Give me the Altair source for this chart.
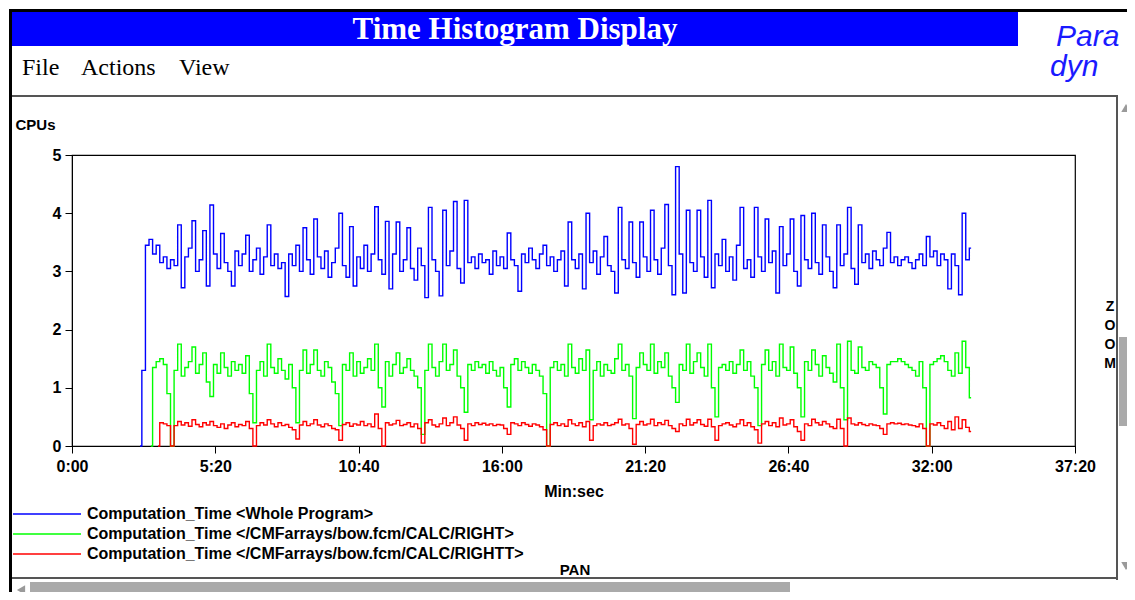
import altair as alt
import pandas as pd

# ---------------- data ----------------
START_SEC = 152      # first histogram bucket (seconds)
BUCKET_SEC = 8       # bucket width (seconds)

SERIES = [
    "Computation_Time <Whole Program>",
    "Computation_Time </CMFarrays/bow.fcm/CALC/RIGHT>",
    "Computation_Time </CMFarrays/bow.fcm/CALC/RIGHTT>",
]
COLORS = ["#0000ff", "#00ff00", "#ff0000"]

BLUE = [
    0.0,
    1.3, 3.45, 3.55, 3.3, 3.45, 3.15, 3.25, 3.05, 3.2, 3.1,
    3.8, 2.72, 3.25, 3.4, 3.87, 3.0, 3.2, 3.7, 2.75, 4.14,
    3.3, 3.05, 3.65, 3.15, 3.0, 2.75, 3.35, 3.1, 3.3, 3.62,
    3.0, 3.2, 3.4, 2.95, 3.25, 3.8, 3.1, 3.3, 3.05, 3.15,
    2.57, 3.3, 3.1, 3.45, 3.0, 3.75, 3.2, 2.95, 3.9, 3.25,
    3.05, 3.35, 2.9, 3.15, 3.4, 4.0, 3.1, 2.9, 3.77, 2.75,
    3.25, 3.05, 3.45, 3.0, 3.3, 4.11, 3.2, 2.95, 3.86, 2.7,
    3.3, 3.85, 3.0, 3.2, 3.75, 3.05, 2.85, 3.4, 3.1, 2.55,
    4.1, 3.2, 3.0, 2.58, 4.05, 3.1, 3.35, 4.2, 3.05, 2.8,
    4.22, 3.15, 3.25, 3.05, 3.3, 3.15, 3.2, 2.95, 3.35, 3.1,
    3.25, 3.05, 3.66, 3.2, 3.1, 2.66, 3.3, 3.15, 3.4, 3.2,
    3.05, 3.3, 3.45, 3.1, 3.25, 3.0, 3.2, 3.35, 2.75, 3.85,
    3.2, 3.05, 3.3, 2.7, 4.0, 3.15, 3.35, 2.95, 3.25, 3.6,
    3.1, 3.0, 2.63, 4.1, 3.2, 3.05, 3.85, 3.15, 2.9, 3.85,
    3.25, 3.0, 4.05, 3.2, 2.95, 3.4, 4.15, 3.1, 2.6, 4.8,
    3.3, 2.63, 4.05, 3.15, 3.0, 4.05, 3.25, 2.9, 4.22, 2.72,
    3.3, 3.1, 3.55, 3.0, 3.25, 2.85, 3.45, 4.1, 3.05, 3.2,
    2.9, 4.1, 3.25, 3.0, 3.9, 3.15, 3.35, 2.63, 3.77, 3.1,
    3.3, 3.9, 3.0, 2.75, 3.96, 3.2, 3.05, 4.0, 3.15, 2.95,
    3.8, 3.25, 3.0, 2.72, 3.8, 3.1, 3.3, 4.1, 3.05, 2.78,
    3.8, 3.15, 3.3, 3.05, 3.35, 3.2, 3.1, 3.4, 3.67, 3.15,
    3.25, 3.1, 3.2, 3.25, 3.15, 3.05, 3.2, 3.3, 3.1, 3.6,
    3.25, 3.35, 3.1, 3.3, 3.2, 2.7, 3.3, 3.1, 2.6, 4.0,
    3.2, 3.4,
]

GREEN = [
    None,
    None, None, 0.0, 1.35, 1.45, 1.5, 1.4, 0.9, 0.0, 1.3,
    1.75, 1.2, 1.35, 1.45, 1.7, 1.25, 1.4, 1.6, 1.1, 0.85,
    1.4, 1.25, 1.6, 1.35, 1.2, 1.45, 1.3, 1.4, 1.25, 1.55,
    0.9, 0.4, 1.3, 1.45, 1.2, 1.75, 1.35, 1.25, 1.5, 1.3,
    1.15, 1.4, 1.0, 0.4, 1.3, 1.65, 1.25, 1.4, 1.65, 1.3,
    1.2, 1.45, 1.35, 1.1, 0.9, 0.35, 1.4, 1.3, 1.6, 1.2,
    1.45, 1.25, 1.35, 1.5, 1.3, 1.75, 1.0, 0.67, 1.45, 1.2,
    1.4, 1.6, 1.25, 1.35, 1.5, 1.3, 1.2, 1.0, 0.2, 1.3,
    1.75, 1.35, 1.2, 1.45, 1.75, 1.3, 1.4, 1.65, 1.2, 1.0,
    0.58, 1.4, 1.3, 1.45, 1.35, 1.4, 1.25, 1.45, 1.3, 1.2,
    1.35, 1.0, 0.67, 1.4, 1.5, 1.3, 1.45, 1.35, 1.25, 1.4,
    1.3, 1.2, 0.9, 0.0, 1.35, 1.45, 1.3, 1.4, 1.2, 1.75,
    1.35, 1.25, 1.5, 1.3, 1.65, 0.45, 1.3, 1.45, 1.2, 1.4,
    1.3, 1.25, 1.5, 1.75, 1.3, 1.4, 1.2, 0.47, 1.35, 1.6,
    1.4, 1.3, 1.75, 1.25, 1.45, 1.35, 1.6, 1.2, 1.0, 0.75,
    1.4, 1.3, 1.75, 1.25, 1.45, 1.6, 1.35, 1.2, 1.75, 1.0,
    0.5, 1.35, 1.4, 1.3, 1.45, 1.25, 1.4, 1.65, 1.3, 1.45,
    1.2, 1.0, 0.35, 1.4, 1.65, 1.3, 1.45, 1.2, 1.75, 1.35,
    1.3, 1.7, 1.25, 1.0, 0.5, 1.45, 1.3, 1.65, 1.4, 1.2,
    1.55, 1.35, 1.25, 1.1, 1.75, 1.0, 0.45, 1.8, 1.3, 1.25,
    1.7, 1.35, 1.3, 1.45, 1.4, 1.35, 1.0, 0.55, 1.4, 1.45,
    1.45, 1.5, 1.45, 1.4, 1.35, 1.3, 1.2, 1.45, 1.0, 0.0,
    1.4, 1.45, 1.5, 1.55, 1.45, 1.3, 1.2, 1.6, 1.25, 1.8,
    1.35, 0.83,
]

RED = [
    None,
    None, None, None, None, 0.0, 0.4, 0.38, 0.35, 0.0, 0.35,
    0.42, 0.36, 0.4, 0.34, 0.45, 0.37, 0.33, 0.4, 0.36, 0.42,
    0.35, 0.32, 0.38, 0.3, 0.36, 0.4, 0.33, 0.37, 0.35, 0.42,
    0.3, 0.0, 0.35, 0.4, 0.36, 0.45, 0.38, 0.33, 0.4, 0.35,
    0.37, 0.32, 0.28, 0.12, 0.36, 0.42, 0.35, 0.38, 0.45, 0.36,
    0.33, 0.38, 0.35, 0.3, 0.28, 0.1, 0.37, 0.4, 0.34, 0.38,
    0.36, 0.42, 0.35, 0.38, 0.33, 0.55, 0.3, 0.0, 0.4, 0.36,
    0.38, 0.44, 0.35, 0.37, 0.4, 0.33, 0.38, 0.3, 0.05, 0.4,
    0.45, 0.36, 0.33, 0.38, 0.48, 0.35, 0.4, 0.5, 0.36, 0.3,
    0.1, 0.38, 0.35, 0.4, 0.37, 0.39, 0.36, 0.38, 0.35, 0.37,
    0.36, 0.3, 0.2, 0.4, 0.38, 0.35, 0.4, 0.37, 0.34, 0.38,
    0.36, 0.33, 0.28, 0.0, 0.37, 0.4, 0.35, 0.38, 0.34, 0.45,
    0.38, 0.35, 0.4, 0.33, 0.42, 0.1, 0.35, 0.38, 0.36, 0.4,
    0.35, 0.37, 0.4, 0.46, 0.36, 0.38, 0.3, 0.03, 0.37, 0.42,
    0.36, 0.38, 0.46, 0.35, 0.4, 0.37, 0.44, 0.35, 0.3, 0.25,
    0.38, 0.35, 0.46, 0.36, 0.4, 0.45, 0.37, 0.34, 0.46, 0.33,
    0.1, 0.35, 0.38, 0.4, 0.36, 0.33, 0.38, 0.45, 0.35, 0.4,
    0.33, 0.28, 0.05, 0.38, 0.42, 0.35, 0.4, 0.33, 0.48, 0.36,
    0.38, 0.45, 0.33, 0.25, 0.1, 0.38, 0.35, 0.46, 0.4, 0.36,
    0.42, 0.38, 0.33, 0.3, 0.46, 0.3, 0.0, 0.48, 0.38, 0.36,
    0.4, 0.37, 0.35, 0.38, 0.36, 0.35, 0.3, 0.2, 0.38, 0.4,
    0.38, 0.39, 0.37, 0.38, 0.36, 0.35, 0.33, 0.38, 0.3, 0.0,
    0.38, 0.36, 0.4, 0.35, 0.3, 0.42, 0.28, 0.5, 0.3, 0.45,
    0.32, 0.25,
]

X_TICKS = [0, 320, 640, 960, 1280, 1600, 1920, 2240]
Y_TICKS = [0, 1, 2, 3, 4, 5]

TITLE = "Time Histogram Display"
MENU_ITEMS = ["File", "Actions", "View"]

# ---------------- build long table ----------------
rows = []
for k, (name, vals) in enumerate(zip(SERIES, [BLUE, GREEN, RED])):
    for i, v in enumerate(vals):
        if v is not None:
            rows.append({"t": START_SEC + BUCKET_SEC * i, "cpus": v,
                         "series": name, "k": k})
df = pd.DataFrame(rows)

# ---------------- layout constants (page pixels) ----------------
OX, OY = 72, 155          # page position of the plot origin
W, H = 1003, 291          # plot area
SANS = "Liberation Sans"
SERIF = "Liberation Serif"

one = pd.DataFrame({"z": [0]})


def rect(x, x2, y, y2, fill):
    return alt.Chart(one).mark_rect(fill=fill, strokeWidth=0).encode(
        x=alt.value(x - OX), x2=alt.value(x2 - OX),
        y=alt.value(y - OY), y2=alt.value(y2 - OY))


def text(s, x, y, size, color="black", font=SANS, weight="normal",
         align="left", style="normal", **kw):
    return alt.Chart(one).mark_text(
        text=s, fontSize=size, font=font, fontWeight=weight, align=align,
        baseline="middle", color=color, fontStyle=style, **kw
    ).encode(x=alt.value(x - OX), y=alt.value(y - OY))


def tri(x, y, shape, size=90):
    return alt.Chart(one).mark_point(
        shape=shape, filled=True, size=size, color="#9a9a9a", opacity=1
    ).encode(x=alt.value(x - OX), y=alt.value(y - OY))


x_label_expr = ("floor(datum.value/60) + ':' + "
                "(datum.value % 60 < 10 ? '0' : '') + (datum.value % 60)")

lines = alt.Chart(df).mark_line(interpolate="step", strokeWidth=1.4).encode(
    x=alt.X("t:Q",
            scale=alt.Scale(domain=[0, 2240], nice=False, zero=False),
            axis=alt.Axis(values=X_TICKS, labelExpr=x_label_expr,
                          title="Min:sec", grid=False, tickSize=7,
                          labelPadding=5, titlePadding=9,
                          labelFont=SANS, labelFontSize=16,
                          labelFontWeight="bold", titleFont=SANS,
                          titleFontSize=16, titleFontWeight="bold",
                          labelColor="black", titleColor="black",
                          domainColor="black", tickColor="black",
                          labelFlush=False)),
    y=alt.Y("cpus:Q",
            scale=alt.Scale(domain=[0, 5], nice=False),
            axis=alt.Axis(values=Y_TICKS, title="CPUs", grid=False,
                          tickSize=7, labelPadding=4, titleAngle=0,
                          titleX=15 - OX, titleY=124 - OY,
                          titleAlign="left", titleBaseline="middle",
                          labelFont=SANS, labelFontSize=16,
                          labelFontWeight="bold", titleFont=SANS,
                          titleFontSize=15, titleFontWeight="bold",
                          labelColor="black", titleColor="black",
                          domainColor="black", tickColor="black")),
    color=alt.Color("series:N",
                    scale=alt.Scale(domain=SERIES, range=COLORS),
                    legend=alt.Legend(orient="none", legendX=12 - OX,
                                      legendY=506 - OY, title=None,
                                      symbolType="stroke", symbolSize=4624,
                                      symbolStrokeWidth=1.3, padding=0,
                                      clipHeight=16,
                                      labelFont=SANS, labelFontSize=16,
                                      labelFontWeight="bold",
                                      labelColor="black", labelLimit=700,
                                      labelOffset=5, rowPadding=4)),
    order=alt.Order("k:Q"),
    detail="series:N",
)

chrome = [
    rect(9, 1127, 9, 12, "black"),                   # top border
    rect(9, 12, 9, 592, "black"),                    # left border
    rect(12, 1018, 12, 46, "#0000ff"),               # title bar
    text(TITLE, 515, 30, 31, color="white", font=SERIF, weight="bold",
         align="center"),
    text(MENU_ITEMS[0], 22, 68, 24, font=SERIF),
    text(MENU_ITEMS[1], 81, 68, 24, font=SERIF),
    text(MENU_ITEMS[2], 179, 68, 24, font=SERIF),
    text("Para", 1056, 37, 30, color="#1a1aff", style="italic"),
    text("dyn", 1050, 67, 30, color="#1a1aff", style="italic"),
    rect(12, 1118, 95, 97, "#555555"),               # separator
    rect(1116, 1118, 96, 580, "#555555"),            # right scrollbar edge
    rect(1119, 1127, 337, 426, "#aaaaaa"),           # zoom thumb
    tri(1126, 108, "triangle-up"),
    tri(1126, 566, "triangle-down"),
    text("Z\nO\nO\nM", 1110, 307, 14, weight="bold", align="center",
         lineBreak="\n", lineHeight=19),
    text("PAN", 575, 570, 15, weight="bold", align="center"),
    rect(12, 1118, 577, 579, "#555555"),             # pan bar top edge
    rect(30, 790, 582, 599, "#aaaaaa"),              # pan thumb
    tri(21, 590, "triangle-left"),
]

chart = alt.layer(lines, *chrome).properties(
    width=W, height=H,
    padding={"left": OX - 8, "top": OY - 8,
             "right": 1119 - (OX - 8) - W, "bottom": 584 - (OY - 8) - H},
    autosize=alt.AutoSizeParams(type="none"),
    background="white",
).configure_view(stroke="black", strokeWidth=1.2)

chart.save("out.html", embed_options={"renderer": "svg", "actions": False})
